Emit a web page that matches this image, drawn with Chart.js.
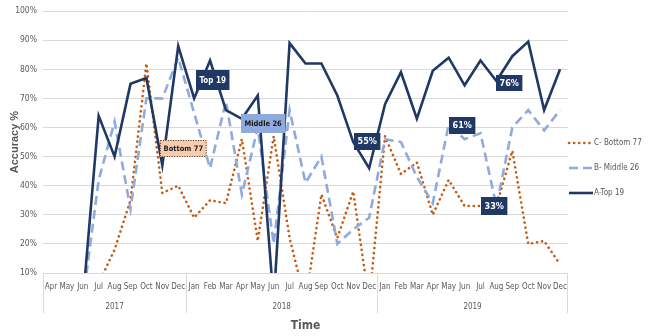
<!DOCTYPE html>
<html>
<head>
<meta charset="utf-8">
<script src="https://cdn.jsdelivr.net/npm/chart.js@4.4.1/dist/chart.umd.min.js"></script>
<style>
  html, body { margin: 0; padding: 0; background: #fff; }
  #wrap { width: 662px; height: 336px; }
</style>
</head>
<body>
<div id="wrap"><canvas id="myChart" width="662" height="336"></canvas></div>
<script>
// months Apr 2017 .. Dec 2019
const months = [
  'Apr', 'May', 'Jun', 'Jul', 'Aug', 'Sep', 'Oct', 'Nov', 'Dec',
  'Jan', 'Feb', 'Mar', 'Apr', 'May', 'Jun', 'Jul', 'Aug', 'Sep', 'Oct', 'Nov', 'Dec',
  'Jan', 'Feb', 'Mar', 'Apr', 'May', 'Jun', 'Jul', 'Aug', 'Sep', 'Oct', 'Nov', 'Dec'
];
const yearLabels = ['2017', '2018', '2019'];
const yearFirst = [0, 9, 21];
const yearLast = [8, 20, 32];

// accuracy % per month for each group
const top19 = [
  null, null, 0, 64, 50, 75, 77, 47, 88,
  70, 83, 66, 63, 71, 0, 89, 82, 82, 71, 55, 46,
  68, 79, 63, 79.5, 84, 74.5, 83, 76, 84.5, 89.5, 66, 80
];
const middle26 = [
  null, null, 0, 42, 62, 32, 70, 70, 84,
  65, 46, 69, 37, 60, 20, 66, 41, 50, 20, 25, 29,
  56, 55, 43, 34, 61, 56, 58, 33, 60, 66, 59, 66
];
const bottom77 = [
  null, null, null, 6.5, 18, 35, 82, 37.5, 40,
  29, 35, 34, 56, 21, 57, 22, 0, 37, 22, 38, 0,
  57, 44, 48, 30, 42, 33, 33, 33, 52, 20, 21, 13
];

const yTicks = [10, 20, 30, 40, 50, 60, 70, 80, 90, 100];

// callout boxes: dataset index + month index they hang off
const calloutText = ['Top 19', 'Bottom 77', 'Middle 26', '55%', '61%', '33%', '76%'];
const calloutSeries = [0, 2, 1, 0, 1, 1, 0];
const calloutMonth = [10, 8, 13, 19, 25, 28, 28];

const NAVY = '#1f3864';
const LIGHT = '#8faadc';
const ORANGE = '#c55a11';
const GREY = '#595959';
const NARROW = "'Liberation Sans Narrow', 'DejaVu Sans Condensed', sans-serif";

// box look + offset from the point, same order as calloutText
const calloutStyle = [
  { dx: 3, dy: 19, h: 20, fill: NAVY, color: '#fff', size: 8 },
  { dx: 5, dy: -37, h: 17, fill: '#f8cbad', color: '#222', size: 7.5, dotted: true },
  { dx: 5, dy: -4, h: 19, fill: LIGHT, color: '#1a1a1a', size: 7.5 },
  { dx: 14, dy: -1, h: 17, fill: NAVY, color: '#fff', size: 9 },
  { dx: 14, dy: 1, h: 17, fill: NAVY, color: '#fff', size: 9 },
  { dx: -2, dy: 0, h: 18, fill: NAVY, color: '#fff', size: 9 },
  { dx: 13, dy: 2, h: 16, fill: NAVY, color: '#fff', size: 9 }
];

const calloutPlugin = {
  id: 'callouts',
  afterDatasetsDraw(chart) {
    const ctx = chart.ctx;
    ctx.save();
    calloutText.forEach((txt, k) => {
      const st = calloutStyle[k];
      const pt = chart.getDatasetMeta(calloutSeries[k]).data[calloutMonth[k]];
      ctx.font = 'bold ' + st.size + 'px ' + NARROW;
      const w = ctx.measureText(txt).width + 7;
      const cx = pt.x + st.dx, cy = pt.y + st.dy;
      const x0 = Math.round(cx - w / 2), y0 = Math.round(cy - st.h / 2);
      ctx.fillStyle = st.fill;
      ctx.fillRect(x0, y0, w, st.h);
      if (st.dotted) {
        ctx.setLineDash([1, 1.5]);
        ctx.strokeStyle = '#333';
        ctx.lineWidth = 1;
        ctx.strokeRect(x0 + 0.5, y0 + 0.5, w - 1, st.h - 1);
        ctx.setLineDash([]);
      }
      ctx.fillStyle = st.color;
      ctx.textAlign = 'center';
      ctx.textBaseline = 'middle';
      ctx.fillText(txt, x0 + w / 2, y0 + st.h / 2 + 0.5);
    });
    ctx.restore();
  }
};

// year row under the month labels, with group separators
const yearRowPlugin = {
  id: 'yearRow',
  afterDraw(chart) {
    const x = chart.scales.x;
    const ctx = chart.ctx;
    const half = (x.getPixelForValue(1) - x.getPixelForValue(0)) / 2;
    const base = chart.chartArea.bottom;
    ctx.save();
    ctx.strokeStyle = '#d9d9d9';
    ctx.lineWidth = 1;
    ctx.fillStyle = GREY;
    ctx.font = '8px ' + NARROW;
    ctx.textAlign = 'center';
    ctx.textBaseline = 'middle';
    yearLabels.forEach((yr, i) => {
      const left = x.getPixelForValue(yearFirst[i]) - half;
      const right = x.getPixelForValue(yearLast[i]) + half;
      ctx.beginPath();
      ctx.moveTo(Math.round(left) + 0.5, base);
      ctx.lineTo(Math.round(left) + 0.5, base + 40);
      if (i === yearLabels.length - 1) {
        ctx.moveTo(Math.round(right) - 0.5, base);
        ctx.lineTo(Math.round(right) - 0.5, base + 40);
      }
      ctx.stroke();
      ctx.fillText(yr, (left + right) / 2, base + 34);
    });
    ctx.restore();
  }
};

// legend on the right, listed bottom group first
const legendPlugin = {
  id: 'sideLegend',
  afterDraw(chart) {
    const ctx = chart.ctx;
    const ds = chart.data.datasets;
    const order = [2, 1, 0];
    const x0 = chart.chartArea.right + 1;
    ctx.save();
    ctx.font = '8px ' + NARROW;
    ctx.textBaseline = 'middle';
    ctx.fillStyle = GREY;
    order.forEach((d, i) => {
      const y = 143 + i * 25;
      const set = ds[d];
      ctx.strokeStyle = set.borderColor;
      ctx.lineWidth = set.borderWidth;
      ctx.lineCap = set.borderCapStyle || 'butt';
      ctx.setLineDash(set.borderDash || []);
      ctx.beginPath();
      ctx.moveTo(x0, y);
      ctx.lineTo(x0 + 24, y);
      ctx.stroke();
      ctx.setLineDash([]);
      ctx.fillText(set.label, x0 + 25, y);
    });
    ctx.restore();
  }
};

new Chart(document.getElementById('myChart'), {
  type: 'line',
  data: {
    labels: months,
    datasets: [
      {
        label: 'A-Top 19', data: top19,
        borderColor: NAVY, borderWidth: 2.6,
        pointRadius: 0, tension: 0
      },
      {
        label: 'B- Middle 26', data: middle26,
        borderColor: LIGHT, borderWidth: 2.6, borderDash: [9, 5],
        pointRadius: 0, tension: 0
      },
      {
        label: 'C- Bottom 77', data: bottom77,
        borderColor: ORANGE, borderWidth: 2.6, borderDash: [0.1, 5],
        borderCapStyle: 'round',
        pointRadius: 0, tension: 0
      }
    ]
  },
  options: {
    responsive: false,
    animation: false,
    layout: { padding: { top: 10, right: 94, left: 0, bottom: 0 } },
    plugins: {
      legend: { display: false },
      tooltip: { enabled: false }
    },
    scales: {
      x: {
        offset: true,
        grid: { display: false, drawTicks: false },
        border: { display: false },
        ticks: {
          autoSkip: false, maxRotation: 0, padding: 9,
          color: GREY, font: { family: NARROW, size: 8 }
        },
        title: {
          display: true, text: 'Time', color: GREY,
          font: { family: NARROW, size: 12, weight: 'bold' },
          padding: { top: 0, bottom: 3 }
        },
        afterFit(scale) { scale.height = 63; }
      },
      y: {
        min: 10, max: 100,
        afterBuildTicks(scale) { scale.ticks = yTicks.map(v => ({ value: v })); },
        grid: { color: '#d9d9d9', drawTicks: false },
        border: { display: false },
        ticks: {
          padding: 6, color: GREY,
          font: { family: NARROW, size: 8.5 },
          callback: v => v + '%'
        },
        title: {
          display: true, text: 'Accuracy %', color: GREY,
          font: { family: "'Liberation Sans', Arial, sans-serif", size: 11, weight: 'bold' },
          padding: { top: 8, bottom: 0 }
        },
        afterFit(scale) { scale.width = 43; }
      }
    }
  },
  plugins: [calloutPlugin, yearRowPlugin, legendPlugin]
});
</script>
</body>
</html>
